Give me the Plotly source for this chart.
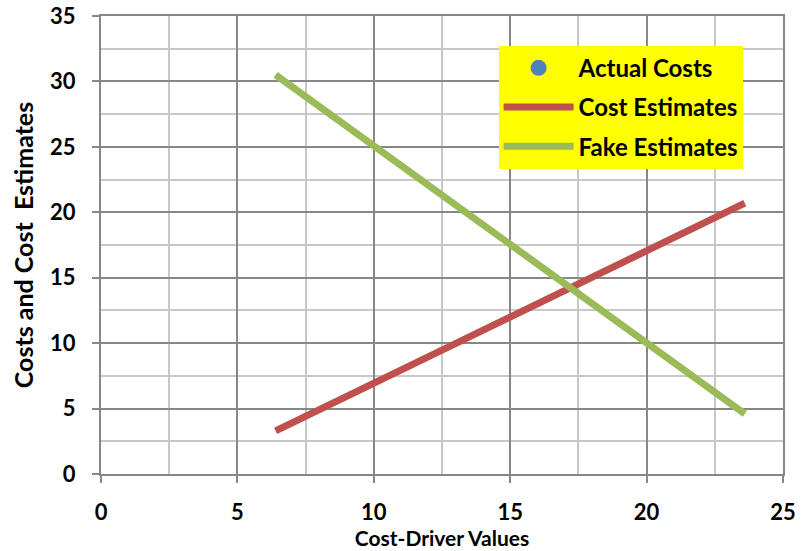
import plotly.graph_objects as go

# Cost-driver values at the ends of each fitted line
driver_values = [6.4, 23.6]
cost_estimates = [3.3, 20.7]
fake_estimates = [30.5, 4.6]

# Observed costs (no points shown on this chart)
actual_x = [None]
actual_y = [None]

x_ticks = [0, 5, 10, 15, 20, 25]
y_ticks = [0, 5, 10, 15, 20, 25, 30, 35]

FONT = "Lato"
MAJOR = "#878787"
MINOR = "#c8c8c8"

fig = go.Figure()
fig.add_trace(go.Scatter(
    x=actual_x, y=actual_y, mode="markers", name="Actual Costs",
    marker=dict(color="#4F81BD", size=16), legendgroup="a",
))
fig.add_trace(go.Scatter(
    x=driver_values, y=cost_estimates, mode="lines", name="Cost Estimates",
    line=dict(color="#C0504D", width=7), legendgroup="b",
))
fig.add_trace(go.Scatter(
    x=driver_values, y=fake_estimates, mode="lines", name="Fake Estimates",
    line=dict(color="#9BBB59", width=7), legendgroup="c",
))

axis_common = dict(
    showgrid=True, gridcolor=MAJOR, gridwidth=2,
    zeroline=False, automargin=False,
    showline=True, mirror=True, linecolor=MAJOR, linewidth=2,
    ticks="outside", ticklen=7, tickwidth=2, tickcolor=MAJOR,
    tickfont=dict(family=FONT, size=22, color="black", weight="bold"),
)

fig.update_xaxes(
    range=[0, 25], tickvals=x_ticks, **axis_common,
    minor=dict(dtick=2.5, showgrid=True, gridcolor=MINOR, gridwidth=2),
    ticklabelstandoff=11,
    title=dict(text="<b>Cost-Driver Values</b>", standoff=6,
               font=dict(family=FONT, size=21, color="black")),
)
fig.update_yaxes(
    range=[0, 35], tickvals=y_ticks, **axis_common,
    minor=dict(dtick=2.5, showgrid=True, gridcolor=MINOR, gridwidth=2),
    ticklabelstandoff=12,
    title=dict(text="<b>Costs and Cost  Estimates</b>", standoff=9,
               font=dict(family=FONT, size=25, color="black")),
)

fig.update_layout(
    width=807, height=551,
    margin=dict(l=101, r=24, t=16, b=77),
    plot_bgcolor="white", paper_bgcolor="white",
    showlegend=True,
    legend=dict(
        x=0.583, y=0.935, xanchor="left", yanchor="top",
        bgcolor="#FFFF00", borderwidth=0,
        font=dict(family=FONT, size=24, color="black", weight="bold"),
        itemwidth=70, tracegroupgap=5, traceorder="grouped",
    ),
)

fig.write_html("out.html")
